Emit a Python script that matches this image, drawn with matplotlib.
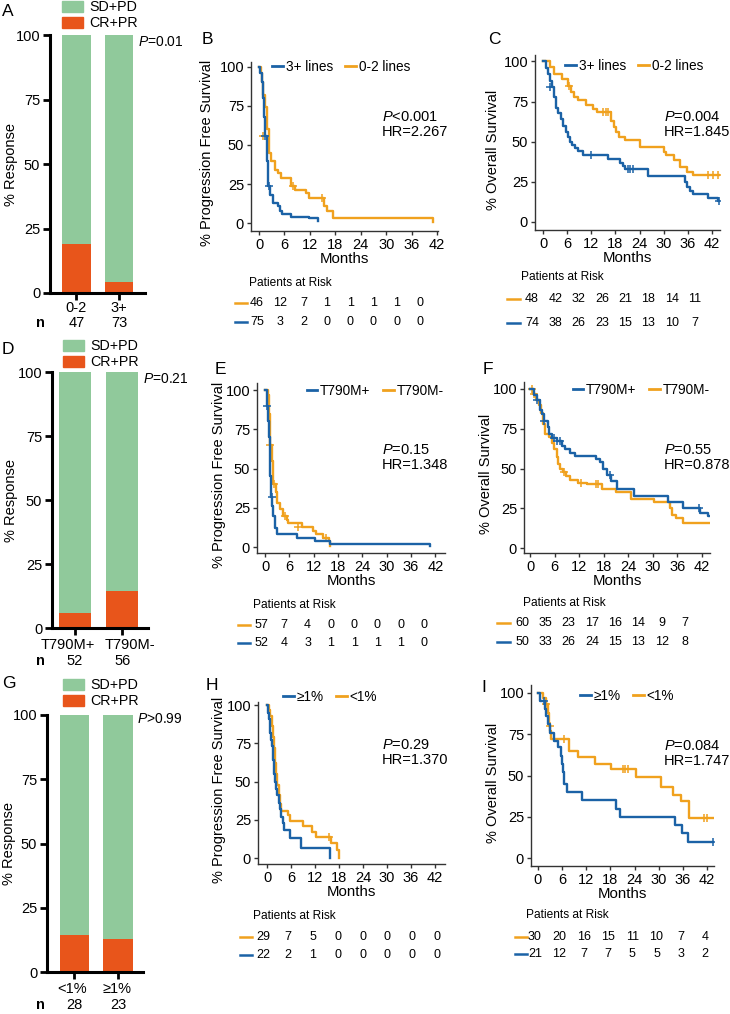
import matplotlib
matplotlib.use("Agg")
import matplotlib.pyplot as plt
from matplotlib.patches import Patch
from matplotlib.lines import Line2D

plt.rcParams['font.family'] = ['Liberation Sans', 'DejaVu Sans']
plt.rcParams['mathtext.fontset'] = 'custom'
plt.rcParams['mathtext.rm'] = 'Liberation Sans'
plt.rcParams['mathtext.it'] = 'Liberation Sans:italic'

BLUE = '#1b62a6'
ORANGE = '#f0a11e'
GREEN = '#90c99b'
RED = '#e8551b'

# ---------------- data ----------------
# response bars (% CR+PR per group)
a_groups = ['0-2', '3+']
a_n = [47, 73]
a_crpr = [19.1, 4.1]
d_groups = ['T790M+', 'T790M-']
d_n = [52, 56]
d_crpr = [5.8, 14.3]
g_groups = ['<1%', '≥1%']
g_n = [28, 23]
g_crpr = [14.3, 13.0]

# B: PFS by lines of therapy
b_blue_t = [0, 0.3, 0.6, 0.9, 1.2, 1.5, 1.8, 2.0, 2.6, 3.2, 4.4, 4.9, 5.5, 7.6, 11.8, 13.8]
b_blue_s = [100, 96, 90, 80, 68, 56, 40, 24, 18, 13, 11, 8, 6, 4, 3, 1.5]
b_blue_ct = [1.4, 2.3]
b_blue_cs = [56, 24]
b_orange_t = [0, 0.4, 0.7, 1.0, 1.4, 1.8, 2.3, 2.9, 3.7, 4.4, 5.2, 7.6, 8.4, 11.0, 11.8, 15.3, 16.0, 17.4, 41.0]
b_orange_s = [100, 96, 90, 82, 74, 60, 45, 40, 34, 32, 29, 24, 21, 19, 16, 11, 8, 3, 1]
b_orange_ct = [0.9, 8.0, 14.8]
b_orange_cs = [56, 24, 16]
b_risk_orange = [46, 12, 7, 1, 1, 1, 1, 0]
b_risk_blue = [75, 3, 2, 0, 0, 0, 0, 0]

# C: OS by lines of therapy
c_blue_t = [0, 0.8, 1.2, 1.7, 2.3, 2.8, 3.3, 3.8, 4.4, 5.0, 5.6, 6.1, 6.6, 7.2, 7.9, 8.8, 10.0,
            16.2, 19.2, 19.8, 20.5, 26.0, 35.3, 35.9, 36.6, 37.3, 41.0, 43.5]
c_blue_s = [100, 96, 92, 88, 84, 78, 71, 68, 64, 60, 56, 53, 50, 48, 46, 44, 42,
            39.5, 37, 35, 33, 28.6, 25, 22, 19.5, 17.5, 15, 13]
c_blue_ct = [1.7, 12.0, 21.0, 21.7, 22.4, 43.8]
c_blue_cs = [84, 42, 33, 33, 33, 13]
c_orange_t = [0, 1.8, 2.6, 4.6, 6.2, 7.0, 7.6, 8.6, 10.8, 12.4, 13.3, 17.0, 17.6, 18.2, 19.0,
              20.3, 24.2, 30.0, 30.6, 32.5, 34.1, 35.8, 37.3]
c_orange_s = [100, 96.5, 92, 89, 85, 81, 78, 75.7, 72.6, 70.5, 68.5, 63, 59, 56, 53,
              50.8, 46.7, 43.6, 41.5, 38.4, 34.2, 31, 29]
c_orange_ct = [6.4, 15.0, 15.6, 16.2, 41.0, 42.3, 43.5]
c_orange_cs = [85, 68.5, 68.5, 68.5, 29, 29, 29]
c_risk_orange = [48, 42, 32, 26, 21, 18, 14, 11]
c_risk_blue = [74, 38, 26, 23, 15, 13, 10, 7]

# E: PFS by T790M
e_blue_t = [0, 0.4, 0.7, 0.9, 1.1, 1.3, 1.5, 1.7, 2.0, 2.4, 3.0, 7.8, 12.3, 16.0, 40.6]
e_blue_s = [100, 90, 80, 70, 60, 45, 32, 26, 20, 12, 8, 6, 4, 2, 0.5]
e_blue_ct = [0.5, 1.6]
e_blue_cs = [90, 32]
e_orange_t = [0, 0.6, 0.9, 1.1, 1.3, 1.6, 2.0, 2.6, 2.9, 3.6, 4.5, 5.3, 5.7, 9.0, 11.8, 12.5, 14.2, 15.7, 16.0]
e_orange_s = [100, 97, 85, 73, 65, 55, 40, 35, 28, 24, 20, 17, 15, 12.5, 10, 8, 6, 4, 0.5]
e_orange_ct = [1.3, 2.2, 4.9, 8.1, 15.1]
e_orange_cs = [65, 40, 20, 12.5, 6]
e_risk_orange = [57, 7, 4, 0, 0, 0, 0, 0]
e_risk_blue = [52, 4, 3, 1, 1, 1, 1, 0]

# F: OS by T790M
f_blue_t = [0, 0.9, 1.8, 2.4, 2.8, 3.3, 4.3, 4.7, 5.3, 6.5, 7.7, 8.6, 9.8, 11.0, 16.1, 17.0,
            17.8, 18.8, 19.8, 21.2, 25.3, 33.8, 37.5, 41.6, 43.6]
f_blue_s = [100, 96, 93, 87, 84, 80, 76, 72, 69, 67, 64, 62, 60, 58, 56, 54,
            50, 46, 42, 37, 33, 29, 25, 22, 20]
f_blue_ct = [1.6, 3.5, 5.8, 6.6, 7.2, 19.6, 41.4]
f_blue_cs = [93, 80, 69, 67, 67, 46, 25]
f_orange_t = [0, 0.8, 1.5, 2.2, 2.6, 3.1, 3.6, 4.5, 5.4, 5.9, 6.5, 6.9, 7.3, 8.0, 8.8, 9.8,
              11.8, 13.9, 17.5, 20.9, 24.6, 30.4, 34.1, 34.7, 35.7, 37.4]
f_orange_s = [100, 97, 93, 90, 85, 78, 72, 70, 66, 62, 57, 53, 50, 48, 45, 43,
              41, 40, 37, 35, 31, 29, 25, 21, 19, 16]
f_orange_ct = [0.5, 1.0, 8.3, 12.4, 16.1, 16.6]
f_orange_cs = [100, 97, 48, 41, 40, 40]
f_risk_orange = [60, 35, 23, 17, 16, 14, 9, 7]
f_risk_blue = [50, 33, 26, 24, 15, 13, 12, 8]

# H: PFS by allele frequency
h_blue_t = [0, 0.3, 0.5, 0.8, 1.1, 1.3, 1.5, 1.8, 2.1, 2.3, 2.6, 3.0, 3.3, 3.5, 3.9, 4.3, 5.8, 8.5, 15.8]
h_blue_s = [100, 95, 91, 82, 77, 73, 64, 55, 50, 45, 41, 36, 32, 27, 23, 18, 13, 6.5, 0]
h_blue_ct = []
h_blue_cs = []
h_orange_t = [0, 0.4, 0.8, 1.2, 1.5, 1.8, 2.1, 2.3, 2.6, 2.9, 3.2, 3.6, 5.2, 5.8, 9.0, 11.2, 12.2, 15.9, 17.5, 18.0]
h_orange_s = [100, 97, 93, 86, 79, 72, 62, 55, 48, 41, 35, 31, 28, 24, 21, 17, 14, 10, 5.4, 0]
h_orange_ct = [15.4]
h_orange_cs = [14]
h_risk_orange = [29, 7, 5, 0, 0, 0, 0, 0]
h_risk_blue = [22, 2, 1, 0, 0, 0, 0, 0]

# I: OS by allele frequency
i_blue_t = [0, 0.5, 1.8, 2.1, 2.4, 3.0, 3.9, 5.0, 5.7, 6.0, 6.3, 6.6, 7.2, 11.0, 19.5, 20.3, 34.0, 35.8, 37.3]
i_blue_s = [100, 95, 90, 86, 81, 76, 71, 67, 62, 57, 52, 45, 40, 35, 30, 25, 20, 15, 10]
i_blue_ct = [1.6, 43.5]
i_blue_cs = [95, 10]
i_orange_t = [0, 1.3, 2.0, 2.4, 2.7, 3.0, 3.3, 7.8, 10.0, 14.1, 18.2, 24.4, 30.6, 33.6, 35.5, 37.5]
i_orange_s = [100, 97, 93, 88, 80, 77, 72, 65, 61, 57, 54, 49, 43, 38, 34.8, 24.5]
i_orange_ct = [2.1, 2.9, 6.5, 21.0, 21.6, 22.4, 41.2, 42.0]
i_orange_cs = [93, 80, 72, 54, 54, 54, 24.5, 24.5]
i_risk_orange = [30, 20, 16, 15, 11, 10, 7, 4]
i_risk_blue = [21, 12, 7, 7, 5, 5, 3, 2]

# ---------------- layout helpers (pixel -> figure fraction) ----------------
W, H = 730, 1014
PT = 100 / 72  # pixels per point
fig = plt.figure(figsize=(W / 100, H / 100), dpi=100)


def fx(x):
    return x / W


def fy(y):
    return 1 - y / H


def box(x0, x1, y0, y1):
    return [fx(x0), fy(y1), (x1 - x0) / W, (y1 - y0) / H]


def letter(s, x, y):
    fig.text(fx(x), fy(y), s, fontsize=12.5, ha='center', va='center')


def draw_bar(bx, xlim, groups, n, crpr, leg_xy, p_text, p_xy, lab_dx, lab_dy, ylab_x):
    ax = fig.add_axes(box(*bx))
    x = list(range(len(groups)))
    green = [100 - v for v in crpr]
    ax.bar(x, crpr, width=0.68, color=RED)
    ax.bar(x, green, bottom=crpr, width=0.68, color=GREEN)
    ax.set_xlim(*xlim)
    ax.set_ylim(0, 100)
    ax.set_yticks([0, 25, 50, 75, 100])
    ax.set_xticks(x)
    ax.set_xticklabels([])
    for sp in ['top', 'right']:
        ax.spines[sp].set_visible(False)
    for sp in ['left', 'bottom']:
        ax.spines[sp].set_linewidth(2.2)
    ax.tick_params(direction='out', length=5, width=2, labelsize=10.5, pad=2)
    ax.set_ylabel('% Response', fontsize=10.5)
    ax.yaxis.set_label_coords((ylab_x - bx[0]) / (bx[1] - bx[0]), 0.5)
    # group names and counts under the bars
    for i, (g, k) in enumerate(zip(groups, n)):
        ax.annotate(g, xy=(i, 0), xycoords=('data', 'axes fraction'),
                    xytext=(lab_dx[i] / PT, -lab_dy[0] / PT), textcoords='offset points',
                    ha='center', va='center', fontsize=10.5)
        ax.annotate(str(k), xy=(i, 0), xycoords=('data', 'axes fraction'),
                    xytext=(0, -lab_dy[1] / PT), textcoords='offset points',
                    ha='center', va='center', fontsize=10.5)
    fig.text(fx(40), fy(bx[3] + lab_dy[1]), 'n', fontsize=10.5, fontweight='bold',
             ha='center', va='center')
    handles = [Patch(color=GREEN), Patch(color=RED)]
    ax.legend(handles, ['SD+PD', 'CR+PR'], loc='upper left',
              bbox_to_anchor=(fx(leg_xy[0]), fy(leg_xy[1])), bbox_transform=fig.transFigure,
              frameon=False, fontsize=10.3, handlelength=1.5, handleheight=0.8,
              handletextpad=0.4, labelspacing=0.15, borderpad=0, borderaxespad=0)
    fig.text(fx(p_xy[0]), fy(p_xy[1]), p_text, fontsize=10, ha='left', va='center')


def draw_km(bx, xlim, ylim, ylabel, ylab_x, blue, orange, labels, leg_xy, stats, st_xy,
            risk_o, risk_b, title_xy, rows_y, dash_x, num_x0, step):
    ax = fig.add_axes(box(*bx))
    for (t, s, end, ct, cs), col in [(orange, ORANGE), (blue, BLUE)]:
        ax.step(list(t) + [end], list(s) + [s[-1]], where='post', color=col, lw=1.7)
        if ct:
            ax.plot(ct, cs, ls='none', marker='+', ms=6, mew=1.1, color=col)
    ax.set_xlim(*xlim)
    ax.set_ylim(*ylim)
    ax.set_xticks(range(0, 43, 6))
    ax.set_yticks([0, 25, 50, 75, 100])
    for sp in ['top', 'right']:
        ax.spines[sp].set_visible(False)
    for sp in ['left', 'bottom']:
        ax.spines[sp].set_linewidth(1.0)
        ax.spines[sp].set_color('#333333')
    ax.tick_params(direction='out', length=3, width=1, labelsize=10.5, pad=2, color='#333333')
    ax.set_xlabel('Months', fontsize=10.8, labelpad=0)
    ax.set_ylabel(ylabel, fontsize=10.5)
    ax.yaxis.set_label_coords((ylab_x - bx[0]) / (bx[1] - bx[0]), 0.46)
    hs = [Line2D([], [], color=BLUE, lw=2), Line2D([], [], color=ORANGE, lw=2)]
    ax.legend(hs, labels, ncol=2, loc='center', bbox_to_anchor=(fx(leg_xy[0]), fy(leg_xy[1])),
              bbox_transform=fig.transFigure, frameon=False, fontsize=9.8, handlelength=0.8,
              handletextpad=0.2, columnspacing=0.9, borderpad=0, borderaxespad=0)
    fig.text(fx(st_xy[0]), fy(st_xy[1]), stats[0], fontsize=10.5, ha='left', va='center')
    fig.text(fx(st_xy[0]), fy(st_xy[1] + 15), stats[1], fontsize=10.5, ha='left', va='center')
    # patients at risk table
    fig.text(fx(title_xy[0]), fy(title_xy[1]), 'Patients at Risk', fontsize=8.6, ha='left', va='center')
    for y, vals, col in zip(rows_y, [risk_o, risk_b], [ORANGE, BLUE]):
        fig.add_artist(Line2D([fx(dash_x[0]), fx(dash_x[1])], [fy(y), fy(y)], color=col, lw=1.8))
        for k, v in enumerate(vals):
            fig.text(fx(num_x0 + k * step), fy(y), str(v), fontsize=9, ha='center', va='center')


# ---------------- row 1 ----------------
letter('A', 8, 12)
draw_bar((50, 145, 35, 293), (-0.62, 1.61), a_groups, a_n, a_crpr, (62, 0),
         '$P$=0.01', (138, 42), [0, 0], (15, 30), 18)
letter('B', 207, 40)
draw_km((251, 438, 62, 231), (-1.9, 42.2), (-5, 103), '% Progression Free Survival', 214,
        (b_blue_t, b_blue_s, 14.0, b_blue_ct, b_blue_cs),
        (b_orange_t, b_orange_s, 41.0, b_orange_ct, b_orange_cs),
        ['3+ lines', '0-2 lines'], (341, 67), ['$P$<0.001', 'HR=2.267'], (382, 117),
        b_risk_orange, b_risk_blue, (249, 283), (303, 322), (235, 247), 257, 23.3)
letter('C', 494, 40)
draw_km((535, 720, 55, 230), (-2, 44), (-5, 104), '% Overall Survival', 500,
        (c_blue_t, c_blue_s, 43.9, c_blue_ct, c_blue_cs),
        (c_orange_t, c_orange_s, 43.9, c_orange_ct, c_orange_cs),
        ['3+ lines', '0-2 lines'], (634, 66), ['$P$=0.004', 'HR=1.845'], (664, 117),
        c_risk_orange, c_risk_blue, (521, 277), (299, 323), (507, 520), 532, 23.3)

# ---------------- row 2 ----------------
letter('D', 8, 350)
draw_bar((52, 148, 372, 628), (-0.49, 1.55), d_groups, d_n, d_crpr, (63, 339),
         '$P$=0.21', (143, 379), [-7, 8], (17, 33), 18)
letter('E', 220, 370)
draw_km((257, 445, 383, 553), (-2, 44.4), (-3.8, 104.5), '% Progression Free Survival', 226,
        (e_blue_t, e_blue_s, 40.6, e_blue_ct, e_blue_cs),
        (e_orange_t, e_orange_s, 16.0, e_orange_ct, e_orange_cs),
        ['T790M+', 'T790M-'], (375, 391), ['$P$=0.15', 'HR=1.348'], (382, 450),
        e_risk_orange, e_risk_blue, (253, 605), (625, 643), (238, 250), 261, 23.3)
letter('F', 488, 370)
draw_km((524, 710, 382, 553), (-1.5, 44), (-3.1, 104.4), '% Overall Survival', 493,
        (f_blue_t, f_blue_s, 44.0, f_blue_ct, f_blue_cs),
        (f_orange_t, f_orange_s, 44.0, f_orange_ct, f_orange_cs),
        ['T790M+', 'T790M-'], (641, 390), ['$P$=0.55', 'HR=0.878'], (664, 450),
        f_risk_orange, f_risk_blue, (523, 603), (623, 642), (497, 510), 522, 23.3)

# ---------------- row 3 ----------------
letter('G', 9, 684)
draw_bar((47, 143, 715, 972), (-0.625, 1.56), g_groups, g_n, g_crpr, (63, 678),
         '$P$>0.99', (137, 719), [-2, -1], (17, 33), 16)
letter('H', 212, 686)
draw_km((258, 445, 702, 864), (-2.25, 44.5), (-3.9, 102), '% Progression Free Survival', 226,
        (h_blue_t, h_blue_s, 15.8, h_blue_ct, h_blue_cs),
        (h_orange_t, h_orange_s, 18.0, h_orange_ct, h_orange_cs),
        ['≥1%', '<1%'], (330, 697), ['$P$=0.29', 'HR=1.370'], (382, 745),
        h_risk_orange, h_risk_blue, (253, 916), (937, 955), (240, 252), 263, 24.9)
letter('I', 484, 688)
draw_km((531, 714, 685, 866), (-1.7, 43.7), (-4.8, 104.8), '% Overall Survival', 500,
        (i_blue_t, i_blue_s, 43.6, i_blue_ct, i_blue_cs),
        (i_orange_t, i_orange_s, 43.6, i_orange_ct, i_orange_cs),
        ['≥1%', '<1%'], (627, 696), ['$P$=0.084', 'HR=1.747'], (664, 746),
        i_risk_orange, i_risk_blue, (526, 915), (937, 954), (515, 527), 535, 24.3)

fig.savefig('out.png', dpi=100)
